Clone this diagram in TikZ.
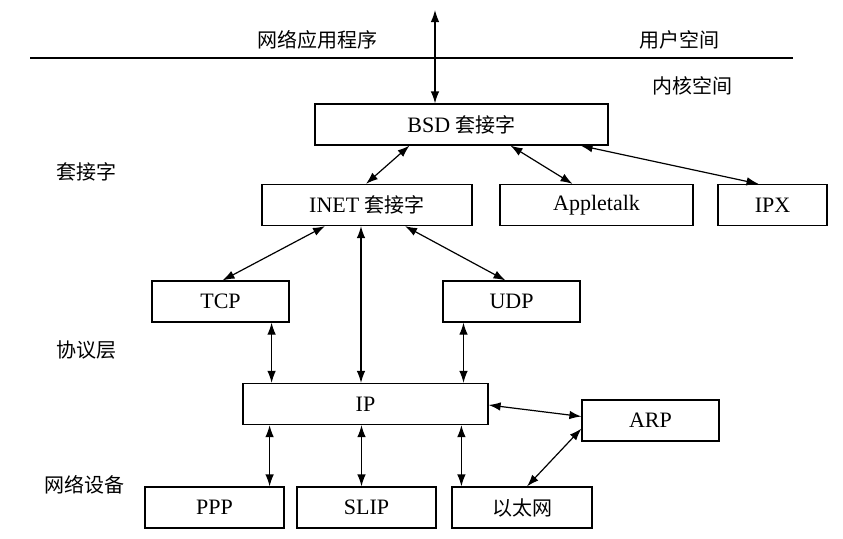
\documentclass[tikz,border=0pt]{standalone}
\usepackage{fontspec}
\setmainfont{Liberation Serif}
\newfontfamily\cjk{Noto Sans CJK SC}
\usetikzlibrary{arrows.meta}
\newcommand{\zh}[1]{{\cjk\fontsize{20}{24}\selectfont #1}}

\begin{document}
\begin{tikzpicture}[x=1pt,y=-1pt,
  box/.style={draw,line width=1.2pt,minimum height=41pt,inner sep=0pt,font=\fontsize{22}{24}\selectfont},
  lbl/.style={inner sep=0pt},
  dbl/.style={line width=1.2pt,{Latex[length=12pt,width=8.5pt]}-{Latex[length=12pt,width=8.5pt]}}]
\useasboundingbox (0,0) rectangle (843,538);

% user / kernel space
\draw[line width=1.2pt] (30,58) -- (793,58);
\node[lbl] (app) at (317,40) {\zh{网络应用程序}};
\node[lbl] (user) at (679,40) {\zh{用户空间}};
\node[lbl] (kern) at (692,86) {\zh{内核空间}};
\node[lbl] (sock) at (86,172) {\zh{套接字}};
\node[lbl] (proto) at (86,350) {\zh{协议层}};
\node[lbl] (dev) at (84,485) {\zh{网络设备}};

% boxes
\node[box,minimum width=293pt] (bsd) at (461.5,124.5) {BSD \zh{套接字}};
\node[box,minimum width=210pt] (inet) at (367,205) {INET \zh{套接字}};
\node[box,minimum width=193pt] (apple) at (596.5,205) {Appletalk};
\node[box,minimum width=109pt] (ipx) at (772.5,205) {IPX};
\node[box,minimum width=137pt] (tcp) at (220.5,301.5) {TCP};
\node[box,minimum width=137pt] (udp) at (511.5,301.5) {UDP};
\node[box,minimum width=245pt] (ip) at (365.5,404) {IP};
\node[box,minimum width=137pt] (arp) at (650.5,420.5) {ARP};
\node[box,minimum width=139pt] (ppp) at (214.5,507.5) {PPP};
\node[box,minimum width=139pt] (slip) at (366.5,507.5) {SLIP};
\node[box,minimum width=140pt] (eth) at (522,507.5) {\zh{以太网}};

% connectors
\coordinate (top) at (435,10);
\draw[dbl] (top) -- (top |- bsd.north);
\draw[dbl] ([xshift=-52pt]bsd.south) -- ([xshift=-1pt]inet.north);
\draw[dbl] ([xshift=49pt]bsd.south) -- ([xshift=-24pt]apple.north);
\draw[dbl] ([xshift=-28pt]bsd.south east) -- ([xshift=-14pt]ipx.north);
\draw[dbl] ([xshift=-42pt]inet.south) -- ([xshift=2pt]tcp.north);
\draw[dbl] ([xshift=38pt]inet.south) -- ([xshift=-6pt]udp.north);
\draw[dbl] ([xshift=-6pt]inet.south) -- ([xshift=-6pt]inet.south |- ip.north);
\draw[dbl] ([xshift=-18pt]tcp.south east) -- ([xshift=-18pt]tcp.south east |- ip.north);
\draw[dbl] ([xshift=-48pt]udp.south) -- ([xshift=-48pt]udp.south |- ip.north);
\draw[dbl] ([yshift=-1pt]ip.east) -- ([yshift=4pt]arp.west);
\draw[dbl] ([yshift=13pt]arp.south west) -- ([xshift=5pt]eth.north);
\draw[dbl] ([xshift=-15pt]ppp.north east |- ip.south) -- ([xshift=-15pt]ppp.north east);
\draw[dbl] ([xshift=-5pt]slip.north |- ip.south) -- ([xshift=-5pt]slip.north);
\draw[dbl] ([xshift=10pt]eth.north west |- ip.south) -- ([xshift=10pt]eth.north west);
\end{tikzpicture}
\end{document}
